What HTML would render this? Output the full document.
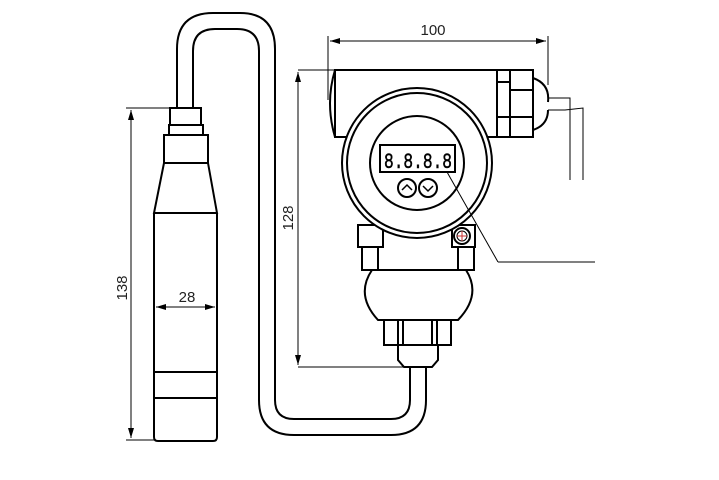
<!DOCTYPE html>
<html><head><style>html,body{margin:0;padding:0;background:#fff;}svg{display:block;}</style></head>
<body>
<svg width="719" height="480" viewBox="0 0 719 480" xmlns="http://www.w3.org/2000/svg" font-family="Liberation Sans, sans-serif">
<defs>
<marker id="a" markerWidth="10" markerHeight="6" refX="10" refY="3" orient="auto" markerUnits="userSpaceOnUse"><path d="M0,0 L10,3 L0,6z" fill="#000"/></marker>
</defs>
<g fill="none" stroke="#000" stroke-width="2">
<path d="M177,108 V49 Q177,13 213,13 H240 Q275,13 275,49 V400 Q275,419 294,419 H391 Q410,419 410,400 V367"/>
<path d="M193,108 V51 Q193,29 215,29 H237 Q259,29 259,51 V400 Q259,435 294,435 H391 Q426,435 426,400 V367"/>
<rect x="170" y="108" width="31" height="17"/>
<rect x="169" y="125" width="34" height="10"/>
<rect x="164" y="135" width="44" height="28"/>
<path d="M164,163 L154,213 H217 L208,163"/>
<path d="M154,213 V437 Q154,441 158,441 H213 Q217,441 217,437 V213"/>
<line x1="154" y1="372" x2="217" y2="372"/>
<line x1="154" y1="398" x2="217" y2="398"/>
<path d="M335,70 Q325,103 335,137"/>
<rect x="335" y="70" width="162" height="67"/>
<rect x="497" y="70" width="13" height="67"/>
<line x1="497" y1="82" x2="510" y2="82"/><line x1="497" y1="117" x2="510" y2="117"/>
<rect x="510" y="70" width="23" height="67"/>
<line x1="510" y1="90" x2="533" y2="90"/><line x1="510" y1="117" x2="533" y2="117"/>
<path d="M533,78 Q550,84 548,102 M548,110 Q548,125 533,130"/>
<rect x="358" y="225" width="25" height="22"/>
<rect x="362" y="247" width="16" height="23"/>
<rect x="452" y="225" width="23" height="22"/>
<rect x="458" y="247" width="16" height="23"/>
<line x1="362" y1="270" x2="474" y2="270"/>
<path d="M372,270 Q355,295 378,320 H458 Q482,295 466,270"/>
<rect x="384" y="320" width="67" height="25"/>
<line x1="398" y1="320" x2="398" y2="345"/><line x1="403" y1="320" x2="403" y2="345"/>
<line x1="432" y1="320" x2="432" y2="345"/><line x1="437" y1="320" x2="437" y2="345"/>
<path d="M398,345 V360 L404,367 H432 L438,360 V345"/>
<circle cx="417" cy="163" r="75" fill="#fff"/>
<circle cx="417" cy="163" r="70"/>
<circle cx="417" cy="163" r="47"/>
<rect x="380" y="145" width="75" height="27"/>
<circle cx="407" cy="188" r="9"/>
<circle cx="428" cy="188" r="9"/>
<path d="M402,190 L407,185 L412,190 M423,186 L428,191 L433,186" stroke-width="1.5"/>
<circle cx="462" cy="236" r="8" fill="#fff"/>
<circle cx="462" cy="236" r="5" stroke-width="1"/>
<path d="M457,236 H467 M462,231 V241" stroke="#c33" stroke-width="1"/>
</g>
<text x="384" y="168" font-size="22" font-family="Liberation Mono, monospace" stroke="#000" stroke-width="0.5" textLength="68" lengthAdjust="spacingAndGlyphs">8.8.8.8</text>
<g fill="none" stroke="#000" stroke-width="1">
<path d="M548,98 H570 V180 M548,110 H565 L583,108 V180"/>
<line x1="447" y1="172" x2="498" y2="262"/><line x1="498" y1="262" x2="595" y2="262"/>
<line x1="328" y1="36" x2="328" y2="100"/><line x1="548" y1="36" x2="548" y2="85"/>
<line x1="330" y1="41" x2="546" y2="41" marker-end="url(#a)"/>
<line x1="546" y1="41" x2="330" y2="41" marker-end="url(#a)"/>
<line x1="298" y1="70" x2="335" y2="70"/><line x1="298" y1="367" x2="410" y2="367"/>
<line x1="298" y1="72" x2="298" y2="365" marker-end="url(#a)"/>
<line x1="298" y1="365" x2="298" y2="72" marker-end="url(#a)"/>
<line x1="126" y1="108" x2="170" y2="108"/><line x1="126" y1="440" x2="154" y2="440"/>
<line x1="131" y1="110" x2="131" y2="438" marker-end="url(#a)"/>
<line x1="131" y1="438" x2="131" y2="110" marker-end="url(#a)"/>
<line x1="156" y1="307" x2="215" y2="307" marker-end="url(#a)"/>
<line x1="215" y1="307" x2="156" y2="307" marker-end="url(#a)"/>
</g>
<g font-size="15" fill="#222">
<text x="433" y="35" text-anchor="middle">100</text>
<text x="187" y="302" text-anchor="middle">28</text>
<text transform="translate(127,288) rotate(-90)" text-anchor="middle">138</text>
<text transform="translate(293,218) rotate(-90)" text-anchor="middle">128</text>
</g>
</svg>
</body></html>
